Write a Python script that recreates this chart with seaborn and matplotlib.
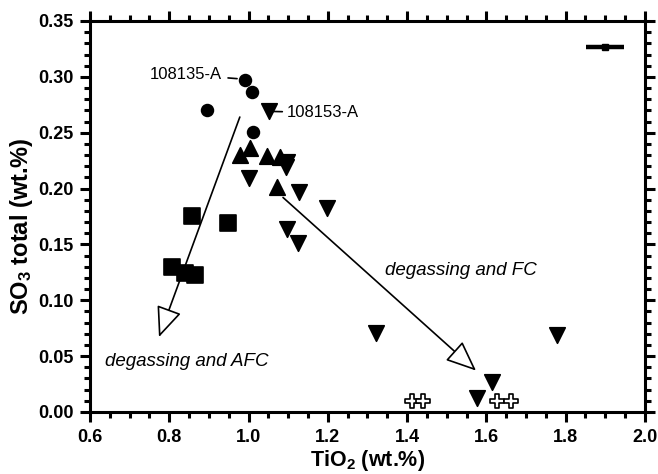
import matplotlib
matplotlib.use("Agg")
import matplotlib.pyplot as plt
from matplotlib.ticker import MultipleLocator, FormatStrFormatter
import numpy as np
import pandas as pd
import seaborn as sns

# --- data: TiO2 (x) vs total SO3 (y), wt.% ---
circle_tio2 = [0.990, 1.009, 0.895, 1.011]
circle_so3 = [0.297, 0.286, 0.270, 0.251]

tri_up_tio2 = [0.978, 1.003, 1.046, 1.079, 1.072]
tri_up_so3 = [0.230, 0.236, 0.229, 0.228, 0.201]

tri_down_tio2 = [1.052, 1.098, 1.094, 1.001, 1.127, 1.198, 1.097, 1.125,
                 1.321, 1.778, 1.614, 1.576]
tri_down_so3 = [0.269, 0.224, 0.219, 0.209, 0.197, 0.183, 0.164, 0.151,
                0.0705, 0.0687, 0.0266, 0.0123]

square_tio2 = [0.857, 0.948, 0.807, 0.840, 0.865]
square_so3 = [0.175, 0.169, 0.130, 0.124, 0.123]

cross_tio2 = [1.412, 1.440, 1.627, 1.662]
cross_so3 = [0.010, 0.010, 0.010, 0.010]

# typical analytical uncertainty
err_tio2, err_so3 = 1.899, 0.327
err_dx, err_dy = 0.048, 0.002

# trend arrows (start, end) in data units
afc_start, afc_end = (0.978, 0.264), (0.774, 0.067)
fc_start, fc_end = (1.087, 0.192), (1.574, 0.037)

sns.set_theme(style="ticks")
plt.rcParams["font.family"] = ["Liberation Sans", "DejaVu Sans"]
plt.rcParams["mathtext.fontset"] = "custom"
plt.rcParams["mathtext.bf"] = "Liberation Sans:bold"
plt.rcParams["mathtext.rm"] = "Liberation Sans:bold"
plt.rcParams["mathtext.default"] = "bf"
for key in ["text.color", "axes.labelcolor", "xtick.color", "ytick.color",
            "xtick.labelcolor", "ytick.labelcolor", "axes.edgecolor"]:
    plt.rcParams[key] = "black"

fig = plt.figure(figsize=(6.58, 4.74), dpi=100)
ax = fig.add_axes([0.1368, 0.131, 0.8432, 0.8247])

groups = [
    ("circle", circle_tio2, circle_so3, "o", 72, "black", "black"),
    ("up", tri_up_tio2, tri_up_so3, "^", 125, "black", "black"),
    ("down", tri_down_tio2, tri_down_so3, "v", 125, "black", "black"),
    ("square", square_tio2, square_so3, "s", 120, "black", "black"),
    ("cross", cross_tio2, cross_so3, "P", 100, "white", "black"),
]
for name, xs, ys, mk, size, fc, ec in groups:
    df = pd.DataFrame({"TiO2": xs, "SO3": ys})
    sns.scatterplot(data=df, x="TiO2", y="SO3", marker=mk, s=size,
                    color=fc, edgecolor=ec, linewidth=1.2, ax=ax,
                    zorder=3, legend=False)

ax.errorbar([err_tio2], [err_so3], xerr=[err_dx], yerr=[err_dy],
            fmt="s", ms=5, color="black", elinewidth=3.2, capsize=0, zorder=3)

arrow_style = dict(arrowstyle="-|>,head_length=0.95,head_width=0.4",
                   mutation_scale=20, lw=1.2, fc="white", ec="black",
                   shrinkA=0, shrinkB=0)
ax.annotate("", xy=afc_end, xytext=afc_start, arrowprops=arrow_style, zorder=2)
ax.annotate("", xy=fc_end, xytext=fc_start, arrowprops=arrow_style, zorder=2)

ax.text(0.638, 0.045, "degassing and AFC", style="italic", fontsize=13.5,
        ha="left", va="center")
ax.text(1.344, 0.127, "degassing and FC", style="italic", fontsize=13.5,
        ha="left", va="center")

# sample labels with leader lines
ax.annotate("108135-A", xy=(0.985, 0.298), xytext=(0.933, 0.302),
            fontsize=12, ha="right", va="center",
            arrowprops=dict(arrowstyle="-", lw=1.2, color="black",
                            shrinkA=2, shrinkB=4))
ax.annotate("108153-A", xy=(1.062, 0.269), xytext=(1.097, 0.268),
            fontsize=12, ha="left", va="center",
            arrowprops=dict(arrowstyle="-", lw=1.2, color="black",
                            shrinkA=1, shrinkB=0))

ax.set_xlim(0.6, 2.0)
ax.set_ylim(0.0, 0.35)
ax.xaxis.set_major_locator(MultipleLocator(0.2))
ax.xaxis.set_minor_locator(MultipleLocator(0.05))
ax.yaxis.set_major_locator(MultipleLocator(0.05))
ax.yaxis.set_minor_locator(MultipleLocator(0.01))
ax.xaxis.set_major_formatter(FormatStrFormatter("%.1f"))
ax.yaxis.set_major_formatter(FormatStrFormatter("%.2f"))

for side in ["left", "right", "top", "bottom"]:
    ax.spines[side].set_visible(True)
    ax.spines[side].set_linewidth(2.2)
    ax.spines[side].set_color("black")

ax.tick_params(which="both", direction="out", top=True, right=True,
               labeltop=False, labelright=False, color="black",
               labelcolor="black")
ax.tick_params(which="major", length=7, width=2.2, labelsize=13, pad=5)
ax.tick_params(which="minor", length=4, width=2.2)
for lab in ax.get_xticklabels() + ax.get_yticklabels():
    lab.set_fontweight("bold")

ax.set_xlabel("TiO$_2$ (wt.%)", fontsize=15.5, fontweight="bold", labelpad=2)
ax.set_ylabel("SO$_3$ total (wt.%)", fontsize=17, fontweight="bold")
ax.yaxis.set_label_coords(-0.10, 0.476)

fig.savefig("out.png", dpi=100)
